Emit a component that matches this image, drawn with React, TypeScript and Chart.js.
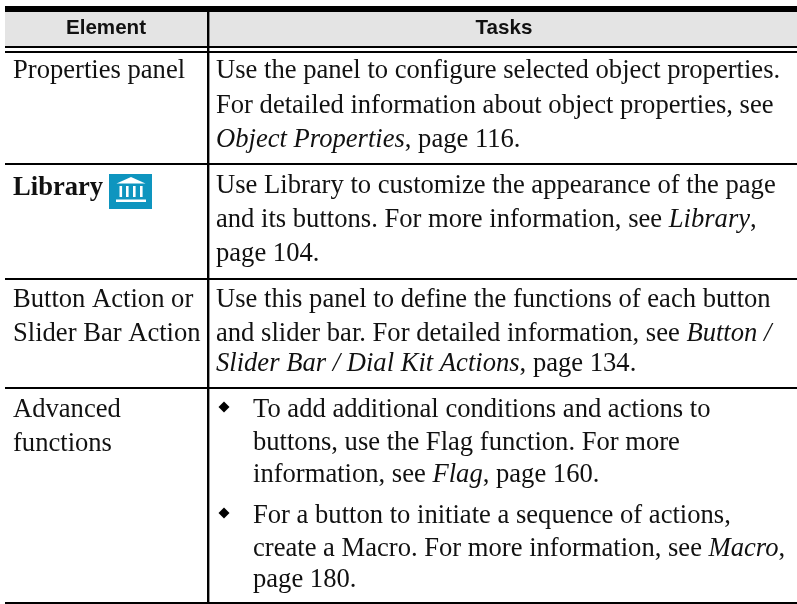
import React, { useEffect, useRef } from "react";
import { Chart, registerables } from "chart.js";

Chart.register(...registerables);

type Run = [string, "r" | "b" | "i"];

const headers = ["Element", "Tasks"];
const elementCells: Run[][][] = [
  [[["Properties panel", "r"]]],
  [[["Library", "b"]]],
  [[["Button Action or", "r"]], [["Slider Bar Action", "r"]]],
  [[["Advanced", "r"]], [["functions", "r"]]],
];
const taskCells: Run[][][] = [
  [
    [["Use the panel to configure selected object properties.", "r"]],
    [["For detailed information about object properties, see", "r"]],
    [["Object Properties", "i"], [", page 116.", "r"]],
  ],
  [
    [["Use Library to customize the appearance of the page", "r"]],
    [["and its buttons. For more information, see ", "r"], ["Library", "i"], [",", "r"]],
    [["page 104.", "r"]],
  ],
  [
    [["Use this panel to define the functions of each button", "r"]],
    [["and slider bar. For detailed information, see ", "r"], ["Button /", "i"]],
    [["Slider Bar / Dial Kit Actions", "i"], [", page 134.", "r"]],
  ],
];
const bulletCell: Run[][] = [
  [["To add additional conditions and actions to", "r"]],
  [["buttons, use the Flag function. For more", "r"]],
  [["information, see ", "r"], ["Flag", "i"], [", page 160.", "r"]],
  [["For a button to initiate a sequence of actions,", "r"]],
  [["create a Macro. For more information, see ", "r"], ["Macro", "i"], [",", "r"]],
  [["page 180.", "r"]],
];

const elementBaselines = [[78], [195], [307, 341], [417, 451]];
const taskBaselines = [[78, 113, 147], [193, 227, 261], [307, 341, 371]];
const bulletBaselines = [417, 450, 482, 523, 556, 587];
const bulletMarks = [{ x: 224, y: 407 }, { x: 224, y: 513 }];
const ruleYs = [9, 47, 52, 164, 279, 388, 603];
const ruleWidths = [6, 2, 2, 2, 2, 2, 3];
const SERIF = '"Liberation Serif"';
const BODY = 26.6;

function fontOf(s: string) {
  if (s === "b") return `bold ${BODY}px ${SERIF}`;
  if (s === "i") return `italic ${BODY}px ${SERIF}`;
  return `${BODY}px ${SERIF}`;
}

function drawLine(ctx: CanvasRenderingContext2D, runs: Run[], x: number, y: number) {
  let cx = x;
  for (const [t, s] of runs) {
    ctx.font = fontOf(s);
    ctx.fillText(t, cx, y);
    cx += ctx.measureText(t).width;
  }
}

const tablePlugin = {
  id: "table",
  beforeDraw(chart: any) {
    const { ctx } = chart;
    const { x, y } = chart.scales;
    ctx.save();
    ctx.fillStyle = "#e4e4e4";
    ctx.fillRect(x.left, y.getPixelForValue(9), x.right - x.left, y.getPixelForValue(46) - y.getPixelForValue(9));
    ctx.restore();
  },
  afterDraw(chart: any) {
    const { ctx } = chart;
    const { x, y } = chart.scales;
    ctx.save();
    ctx.fillStyle = "#111";
    ctx.textBaseline = "alphabetic";
    ctx.textAlign = "center";
    ctx.font = 'bold 20.6px "Liberation Sans"';
    ctx.fillText(headers[0], x.getPixelForValue(106), y.getPixelForValue(33.5));
    ctx.fillText(headers[1], x.getPixelForValue(504), y.getPixelForValue(33.5));
    ctx.textAlign = "left";
    elementCells.forEach((cell, r) =>
      cell.forEach((line, l) =>
        drawLine(ctx, line, x.getPixelForValue(13), y.getPixelForValue(elementBaselines[r][l]))
      )
    );
    taskCells.forEach((cell, r) =>
      cell.forEach((line, l) =>
        drawLine(ctx, line, x.getPixelForValue(216), y.getPixelForValue(taskBaselines[r][l]))
      )
    );
    bulletCell.forEach((line, l) =>
      drawLine(ctx, line, x.getPixelForValue(253), y.getPixelForValue(bulletBaselines[l]))
    );
    // Library icon
    const px = (v: number) => x.getPixelForValue(v);
    const py = (v: number) => y.getPixelForValue(v);
    ctx.fillStyle = "#0e95bf";
    ctx.fillRect(px(109), py(174), 43, 35);
    ctx.fillStyle = "#ffffff";
    ctx.beginPath();
    ctx.moveTo(px(131), py(177));
    ctx.lineTo(px(145.5), py(183.5));
    ctx.lineTo(px(116.5), py(183.5));
    ctx.closePath();
    ctx.fill();
    [119.5, 126, 133, 140].forEach((c) => ctx.fillRect(px(c), py(186), 2.6, 11));
    ctx.fillRect(px(116), py(199.5), 30, 2.5);
    ctx.restore();
  },
};

export default function App() {
  const ref = useRef<HTMLCanvasElement>(null);
  useEffect(() => {
    const chart = new Chart(ref.current!, {
      type: "scatter",
      data: {
        datasets: [
          {
            data: bulletMarks,
            pointStyle: "rectRot",
            pointRadius: 5.5,
            backgroundColor: "#000",
            borderColor: "#000",
            borderWidth: 0,
          },
        ],
      },
      options: {
        animation: false,
        responsive: false,
        layout: { autoPadding: false, padding: { left: 5, top: 6, right: 0, bottom: 0 } },
        plugins: { legend: { display: false }, tooltip: { enabled: false } },
        scales: {
          x: {
            type: "linear",
            min: 5,
            max: 797,
            afterBuildTicks: (s: any) => { s.ticks = [{ value: 208 }]; },
            ticks: { display: false },
            border: { display: false },
            grid: { color: "#000", lineWidth: 2.4, drawTicks: false },
          },
          y: {
            type: "linear",
            reverse: true,
            min: 6,
            max: 604,
            afterBuildTicks: (s: any) => { s.ticks = ruleYs.map((value) => ({ value })); },
            ticks: { display: false },
            border: { display: false },
            grid: {
              color: "#000",
              lineWidth: (c: any) => ruleWidths[ruleYs.indexOf(c.tick?.value)] ?? 2,
              drawTicks: false,
            },
          },
        },
      },
      plugins: [tablePlugin],
    } as any);
    return () => chart.destroy();
  }, []);
  return (
    <div style={{ position: "absolute", left: 0, top: 0, width: 797, height: 604, background: "#fff" }}>
      <canvas ref={ref} width={797} height={604} style={{ display: "block" }} />
    </div>
  );
}
